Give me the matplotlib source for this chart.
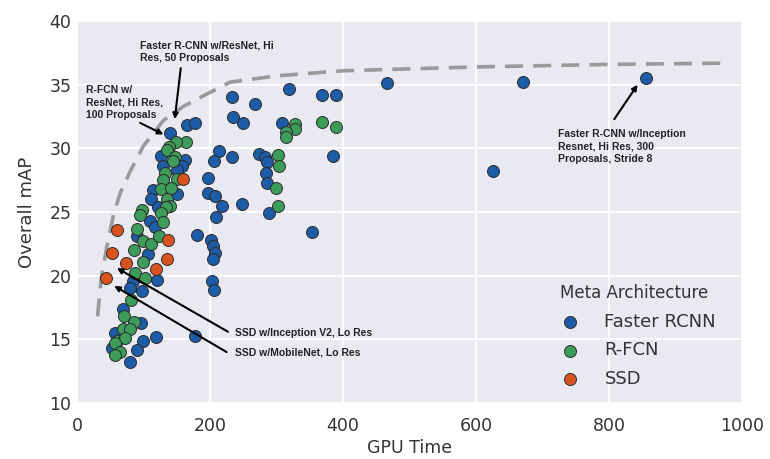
import matplotlib
matplotlib.use("Agg")
import matplotlib.pyplot as plt
import numpy as np

# Faster RCNN points (GPU time, mAP)
frcnn_x = [856, 671, 626, 466, 319, 368, 390, 233, 268, 234, 249, 309, 385, 166, 177,
           140, 214, 206, 233, 273, 283, 286, 284, 286, 288, 197, 197, 208, 218, 248,
           209, 181, 354, 201, 204, 207, 204, 203, 206, 177,
           126, 162, 158, 130, 150, 115, 150, 112, 122, 110, 117, 90, 107, 121, 84,
           80, 97, 69, 96, 57, 119, 100, 52, 90, 79]
frcnn_y = [35.5, 35.2, 28.2, 35.1, 34.7, 34.2, 34.2, 34.0, 33.5, 32.5, 32.0, 32.0, 29.4, 31.8, 32.0,
           31.2, 29.8, 29.0, 29.3, 29.6, 29.3, 28.9, 28.1, 27.3, 24.9, 27.7, 26.5, 26.3, 25.5, 25.6,
           24.6, 23.2, 23.4, 22.8, 22.3, 21.8, 21.3, 19.6, 18.9, 15.3,
           29.4, 29.1, 28.6, 28.6, 28.3, 26.7, 26.4, 26.0, 25.4, 24.3, 23.8, 23.1, 21.7, 19.7, 19.6,
           19.0, 18.8, 17.4, 16.3, 15.5, 15.2, 14.9, 14.3, 14.2, 13.2]

# R-FCN points
rfcn_x = [328, 328, 314, 314, 368, 389, 303, 304, 299, 303,
          164, 149, 139, 135, 147, 145, 132, 130, 150, 127, 142, 135, 140,
          97, 94, 134, 127, 129, 90, 100, 112, 124, 85, 99, 87, 102,
          81, 71, 86, 69, 80, 60, 72, 57, 65, 57]
rfcn_y = [31.9, 31.5, 31.3, 30.9, 32.1, 31.7, 29.5, 28.6, 26.9, 25.5,
          30.5, 30.5, 30.1, 29.9, 29.3, 29.0, 28.1, 27.5, 27.6, 26.8, 26.9, 26.0, 25.5,
          25.2, 24.8, 25.4, 24.9, 24.2, 23.7, 22.7, 22.5, 23.1, 22.0, 21.1, 20.2, 19.8,
          18.1, 16.8, 16.4, 15.8, 15.8, 14.9, 15.1, 14.7, 14.0, 13.8]

# SSD points
ssd_x = [159, 137, 136, 119, 74, 60, 52, 43]
ssd_y = [27.6, 22.8, 21.3, 20.5, 21.0, 23.6, 21.8, 19.8]

# optimality frontier (dashed)
front_x = [31, 33, 37, 45, 55, 65, 80, 100, 130, 160, 200, 230, 300, 400, 600, 800, 980]
front_y = [16.8, 18.0, 20.0, 22.3, 24.8, 26.5, 28.2, 30.2, 32.2, 33.3, 34.4, 35.2, 35.7, 36.1, 36.4, 36.6, 36.7]

fig = plt.figure(figsize=(7.7, 4.59), dpi=100)
ax = fig.add_axes([0.1, 0.122, 0.8636, 0.832])
ax.set_facecolor("#e9e9f1")
ax.grid(True, color="white", lw=1.3)
ax.set_axisbelow(True)
for s in ax.spines.values():
    s.set_visible(False)

ax.plot(front_x, front_y, ls=(0, (5, 2.8)), color="#9a9a9a", lw=2.6, zorder=1)

kw = dict(s=74, edgecolors="#2a2a2a", linewidths=0.7, zorder=3)
ax.scatter(frcnn_x, frcnn_y, color="#1d5ca6", label="Faster RCNN", **kw)
ax.scatter(rfcn_x, rfcn_y, color="#3d9c5a", label="R-FCN", **kw)
ax.scatter(ssd_x, ssd_y, color="#d9531e", label="SSD", **kw)

ax.set_xlim(0, 1000)
ax.set_ylim(10, 40)
ax.set_xticks([0, 200, 400, 600, 800, 1000])
ax.set_yticks([10, 15, 20, 25, 30, 35, 40])
ax.tick_params(length=0, labelsize=12.5, colors="#333333", pad=4)
ax.tick_params(axis="x", pad=10)
ax.set_xlabel("GPU Time", fontsize=12.5, color="#333333", labelpad=3)
ax.set_ylabel("Overall mAP", fontsize=13, color="#333333", labelpad=10)

akw = dict(fontsize=7.5, fontweight="bold", color="#222222", va="top", ha="left",
           family=["Liberation Sans", "DejaVu Sans"], linespacing=1.3)
arr = dict(arrowstyle="-|>", color="black", lw=1.5, mutation_scale=8, shrinkA=0, shrinkB=0)

ax.text(94, 38.5, "Faster R-CNN w/ResNet, Hi\nRes, 50 Proposals", **akw)
ax.annotate("", xy=(147, 32.3), xytext=(156, 36.3), arrowprops=arr)

ax.text(13, 35.0, "R-FCN w/\nResNet, Hi Res,\n100 Proposals", **akw)
ax.annotate("", xy=(130, 31.1), xytext=(95, 32.0), arrowprops=arr)

ax.text(724, 31.5, "Faster R-CNN w/Inception\nResnet, Hi Res, 300\nProposals, Stride 8", **akw)
ax.annotate("", xy=(843, 35.0), xytext=(808, 32.3), arrowprops=arr)

skw = dict(akw)
skw["va"] = "center"
ax.text(237, 15.5, "SSD w/Inception V2, Lo Res", **skw)
ax.annotate("", xy=(60, 20.6), xytext=(227, 15.6), arrowprops=arr)
ax.text(237, 14.0, "SSD w/MobileNet, Lo Res", **skw)
ax.annotate("", xy=(56, 19.2), xytext=(225, 14.0), arrowprops=arr)

leg = ax.legend(title="Meta Architecture", loc="upper left", bbox_to_anchor=(0.69, 0.355),
                frameon=False, fontsize=13, title_fontsize=12, labelspacing=0.6,
                handletextpad=0.9, markerscale=1.0)
for t in leg.get_texts():
    t.set_color("#333333")
leg.get_title().set_color("#333333")

fig.savefig("out.png", dpi=100)
